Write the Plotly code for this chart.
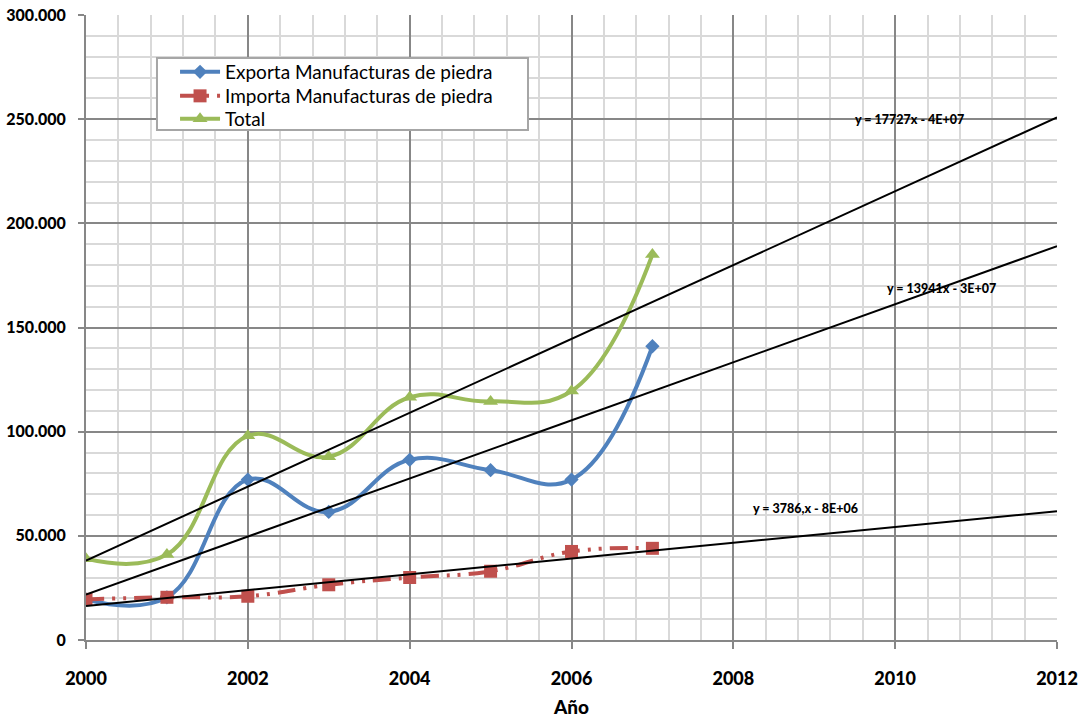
import numpy as np
import plotly.graph_objects as go

# Annual series (values in the same units as the y axis)
years = [2000, 2001, 2002, 2003, 2004, 2005, 2006, 2007]
exporta = [19500, 20500, 77000, 61500, 86500, 81500, 77000, 141000]
importa = [19500, 20500, 21000, 26500, 30000, 33000, 42500, 44000]
total = [e + i for e, i in zip(exporta, importa)]

# Linear trend slopes, as printed in the equation labels
slope_exp = 13941
slope_imp = 3786
slope_tot = 17727
trend_x = [2000, 2012]

y_tickvals = [0, 50000, 100000, 150000, 200000, 250000, 300000]
y_ticktext = ["0", "50.000", "100.000", "150.000", "200.000", "250.000", "300.000"]

BLUE = "#4F81BD"
RED = "#C0504D"
GREEN = "#9BBB59"
MAJOR = "#878787"
MINOR = "#D9D9D9"
FONT = "Lato"
SMOOTH = 1.2


def trend(values, slope):
    # least-squares intercept for a fixed slope
    xs = np.array(years, dtype=float)
    ys = np.array(values, dtype=float)
    b = ys.mean() - slope * xs.mean()
    return [slope * x + b for x in trend_x]


fig = go.Figure()

fig.add_trace(go.Scatter(
    x=years, y=exporta, name="Exporta Manufacturas de piedra", legend="legend",
    mode="lines+markers", line=dict(color=BLUE, width=4, shape="spline", smoothing=SMOOTH),
    marker=dict(symbol="diamond", size=11, color=BLUE),
))
fig.add_trace(go.Scatter(
    x=years, y=importa, name="Importa Manufacturas de piedra", legend="legend2",
    mode="lines+markers",
    line=dict(color=RED, width=4, shape="spline", smoothing=SMOOTH, dash="18px,8px,3px,8px,3px,8px"),
    marker=dict(symbol="square", size=13, color=RED),
))
fig.add_trace(go.Scatter(
    x=years, y=total, name="Total", legend="legend3",
    mode="lines+markers", line=dict(color=GREEN, width=4, shape="spline", smoothing=SMOOTH),
    marker=dict(symbol="triangle-up", size=13, color=GREEN),
))

for vals, slope in ((total, slope_tot), (exporta, slope_exp), (importa, slope_imp)):
    fig.add_trace(go.Scatter(
        x=trend_x, y=trend(vals, slope), mode="lines",
        line=dict(color="black", width=2), showlegend=False, hoverinfo="skip",
    ))

eq_font = dict(family=FONT, size=12.5, color="black", weight=900)
fig.add_annotation(x=2010.18, y=250000, text="y = 17727x - 4E+07", showarrow=False, font=eq_font)
fig.add_annotation(x=2010.57, y=168500, text="y = 13941x - 3E+07", showarrow=False, font=eq_font)
fig.add_annotation(x=2008.89, y=62900, text="y = 3786,x - 8E+06", showarrow=False, font=eq_font)

# legend frame
fig.add_shape(
    type="rect", xref="paper", yref="paper",
    x0=0.0731, x1=0.4552, y0=0.816, y1=0.9312,
    line=dict(color="#A6A6A6", width=2), fillcolor="white", layer="above",
)

leg_common = dict(
    x=0.0917, xanchor="left", yanchor="middle",
    bgcolor="rgba(0,0,0,0)", borderwidth=0,
    font=dict(family=FONT, size=19, color="black"),
    itemwidth=40,
)

fig.update_layout(
    width=1083, height=718,
    margin=dict(l=86, r=26, t=15, b=78),
    plot_bgcolor="white", paper_bgcolor="white",
    font=dict(family=FONT, color="black"),
    showlegend=True,
    legend=dict(y=0.9088, **leg_common),
    legend2=dict(y=0.8704, **leg_common),
    legend3=dict(y=0.8336, **leg_common),
    xaxis=dict(
        range=[2000, 2012], tick0=2000, dtick=2,
        showgrid=True, gridcolor=MAJOR, gridwidth=2,
        minor=dict(tick0=2000, dtick=0.4, showgrid=True, gridcolor=MINOR, gridwidth=2),
        showline=True, linecolor=MAJOR, linewidth=2,
        ticks="outside", ticklen=7, tickwidth=2, tickcolor=MAJOR,
        ticklabelstandoff=14,
        tickfont=dict(family=FONT, size=18, weight=900),
        title=dict(text="Año", font=dict(family=FONT, size=19, weight=900), standoff=14),
        zeroline=False, automargin=False,
    ),
    yaxis=dict(
        range=[0, 300000], tickvals=y_tickvals, ticktext=y_ticktext,
        showgrid=True, gridcolor=MAJOR, gridwidth=2,
        minor=dict(dtick=10000, showgrid=True, gridcolor=MINOR, gridwidth=2),
        showline=True, linecolor=MAJOR, linewidth=2,
        ticks="outside", ticklen=6, tickwidth=2, tickcolor=MAJOR,
        ticklabelstandoff=9,
        tickfont=dict(family=FONT, size=16, weight=900),
        zeroline=False, automargin=False,
    ),
)

fig.write_html("out.html")
